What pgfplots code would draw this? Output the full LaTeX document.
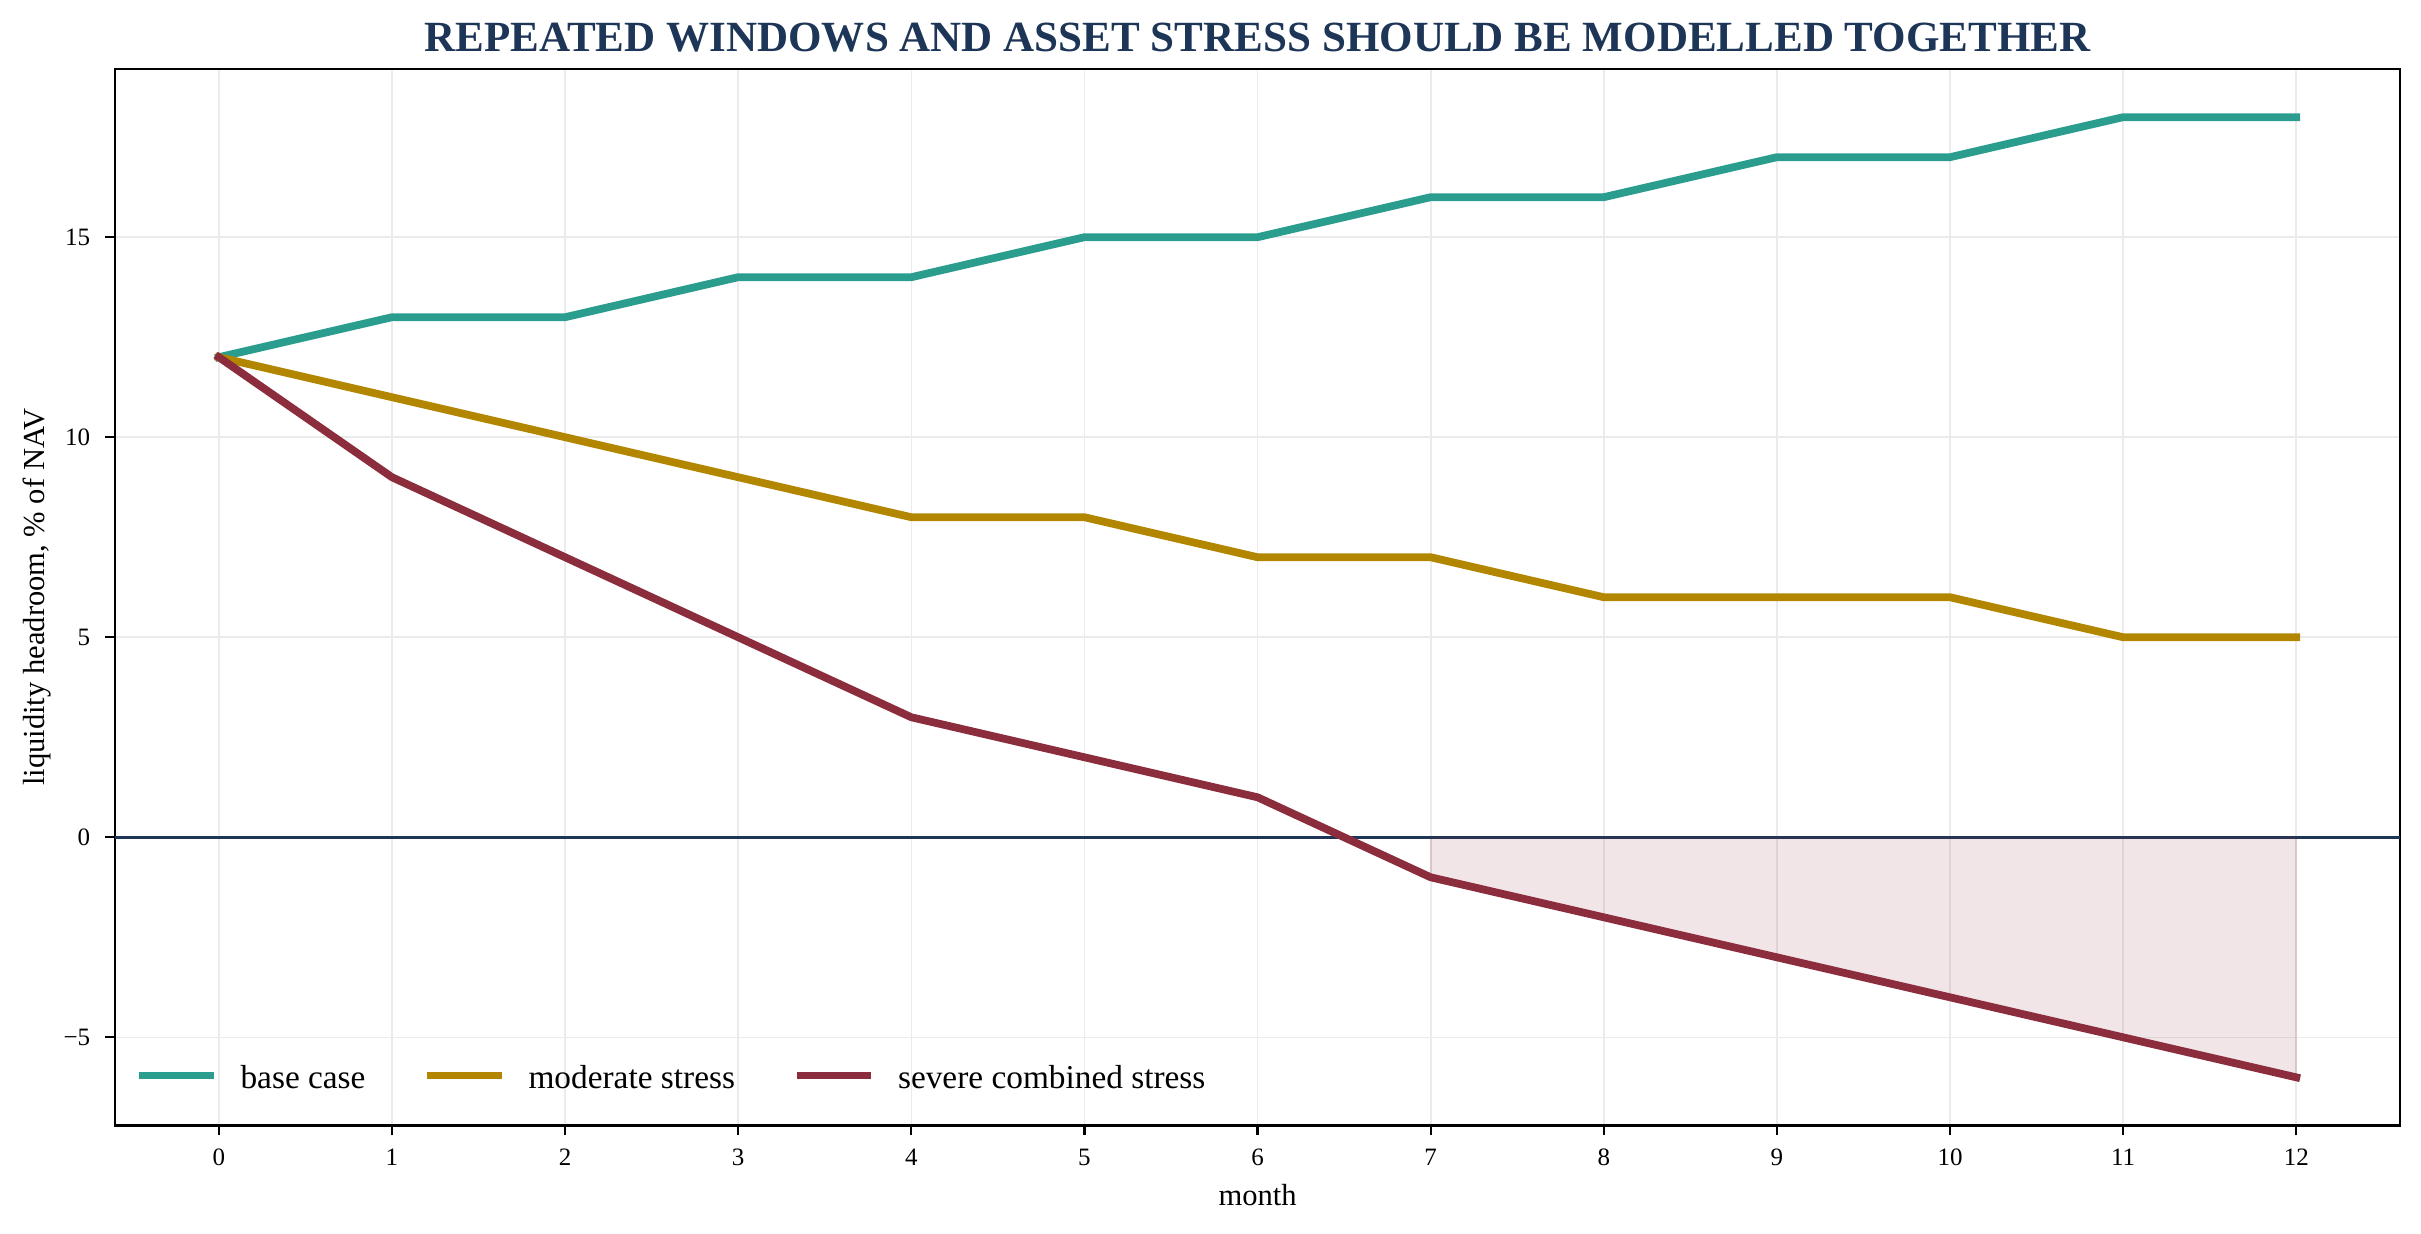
\documentclass[border=0pt]{standalone}
\usepackage{fontspec}
\setmainfont{Liberation Serif}
\usepackage{pgfplots}
\pgfplotsset{compat=1.18}
\definecolor{basec}{HTML}{2A9D8F}
\definecolor{moder}{HTML}{B38600}
\definecolor{severe}{HTML}{8B2D3C}
\definecolor{navy}{HTML}{1D3557}
\definecolor{gridc}{HTML}{EBEBEB}
\pgfplotstableread{
m base mod sev
0 12 12 12
1 13 11 9
2 13 10 7
3 14 9 5
4 14 8 3
5 15 8 2
6 15 7 1
7 16 7 -1
8 16 6 -2
9 17 6 -3
10 17 6 -4
11 18 5 -5
12 18 5 -6
}\data
\begin{document}
\begin{tikzpicture}
\begin{axis}[
 name=ax, at={(0,0)}, anchor=south west,
 scale only axis, width=822.6pt, height=380.2pt,
 xmin=-0.6, xmax=12.6, ymin=-7.2, ymax=19.2,
 xtick={0,...,12}, ytick={-5,0,5,10,15}, yticklabels={−5,0,5,10,15},
 xtick pos=bottom, ytick pos=left,
 tick align=outside, major tick length=3.5pt,
 tick style={black, line width=0.8pt},
 axis line style={black, line width=0.9pt},
 grid=major, major grid style={gridc, line width=0.6pt},
 /pgf/number format/assume math mode=true,
 tick label style={font=\fontsize{9}{10}\selectfont},
 xticklabel style={inner sep=0pt, anchor=north, yshift=-4.7pt},
 yticklabel style={inner sep=0pt, anchor=east, xshift=-5.25pt},
 xlabel={month}, ylabel={liquidity headroom, \% of NAV},
 label style={font=\fontsize{11}{13}\selectfont},
 xlabel style={at={([yshift=-29pt]axis description cs:0.5,0)}, anchor=base},
 ylabel style={at={([xshift=-28.1pt]axis description cs:0,0.5)}, anchor=center},
 title={REPEATED WINDOWS AND ASSET STRESS SHOULD BE MODELLED TOGETHER},
 every axis title/.style={at={([yshift=6.3pt]axis description cs:0.5,1)}, anchor=base, font=\bfseries\fontsize{15.5}{18}\selectfont, text=navy},
 legend columns=3,
 legend image code/.code={\draw[#1, line cap=rect] (0pt,1.3pt) -- (24pt,1.3pt);},
 legend style={at={([xshift=8.6pt,yshift=11.5pt]axis description cs:0,0)}, anchor=south west,
   draw=none, fill=none, inner sep=0pt, font=\fontsize{12}{14}\selectfont,
   nodes={inner sep=0pt},
   /tikz/every odd column/.append style={column sep=9.6pt},
   /tikz/every even column/.append style={column sep=22.3pt}},
 every axis plot/.append style={line join=round, line cap=rect},
]
\addplot[navy, line width=1.2pt, line cap=butt, forget plot] coordinates {(-0.6,0) (12.6,0)};
\addplot[fill=severe, fill opacity=0.12, draw=severe, draw opacity=0.12, line width=0.6pt, line cap=butt, forget plot] coordinates {(7,0) (7,-1) (8,-2) (9,-3) (10,-4) (11,-5) (12,-6) (12,0)} -- cycle;
\addplot[basec, line width=2.8pt] table[x=m, y=base] {\data};
\addlegendentry{base case}
\addplot[moder, line width=2.8pt] table[x=m, y=mod] {\data};
\addlegendentry{moderate stress}
\addplot[severe, line width=2.8pt] table[x=m, y=sev] {\data};
\addlegendentry{severe combined stress}
\end{axis}
\pgfresetboundingbox
\path (-41.4pt,-39.1pt) rectangle ++(871.5pt,444.2pt);
\end{tikzpicture}
\end{document}
